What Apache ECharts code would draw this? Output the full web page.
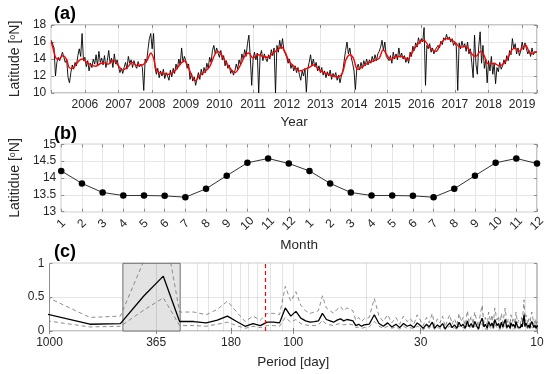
<!DOCTYPE html>
<html><head><meta charset="utf-8">
<script src="https://cdn.jsdelivr.net/npm/echarts@6/dist/echarts.min.js"></script>
<style>html,body{margin:0;padding:0;background:#fff}#c{width:550px;height:374px}</style>
</head><body><div id="c"></div>
<script>
// ---------- Panel (a): daily-ish latitude series and smoothed curve ----------
const yearTicks = [2006,2007,2008,2009,2010,2011,2012,2013,2014,2015,2016,2017,2018,2019];
const blackStart = 2005, blackStep = 1/24;
const blackVals = [
 16.2,16.4,15.3,12.0,13.6,14.2,13.8,14.3,14.8,14.2,13.6,13.9,11.8,11.2,12.4,13.3,12.8,13.6,13.2,14.4,15.2,14.3,17.0,13.8,
 14.2,13.1,13.8,12.6,13.5,13.0,14.0,13.4,14.5,13.2,14.9,13.6,14.1,13.3,14.4,13.0,13.8,15.0,13.5,14.1,13.0,14.6,13.4,13.9,
 13.1,12.4,12.9,12.3,13.0,13.6,12.8,14.3,13.5,13.9,13.0,13.8,13.2,12.9,13.7,13.1,13.4,13.0,10.3,14.0,13.6,15.1,16.4,17.0,
 15.2,17.0,13.0,12.2,12.9,11.8,12.6,12.0,12.8,11.7,12.4,12.0,11.5,12.7,11.9,12.9,12.3,13.4,12.8,14.0,13.3,15.3,13.6,14.3,
 13.8,12.9,13.4,11.6,12.3,11.4,11.9,10.9,11.7,12.4,11.6,12.8,12.1,13.0,12.4,13.5,12.9,14.2,13.6,15.0,15.6,14.6,15.3,14.7,
 14.2,15.0,13.9,14.4,13.2,13.8,12.9,13.3,12.3,12.7,12.1,12.6,13.4,12.8,13.9,13.3,14.6,14.0,15.1,14.3,15.8,16.8,14.2,10.9,
 14.0,14.8,13.9,14.7,10.0,14.4,15.0,13.8,14.6,14.1,13.7,14.5,14.0,15.1,14.4,15.3,10.0,15.6,14.8,16.2,15.2,16.4,15.0,14.6,
 14.2,13.5,14.0,12.9,13.4,12.6,13.2,12.4,13.0,12.2,11.5,12.6,12.0,12.9,10.1,12.8,13.6,14.5,13.2,14.0,13.1,13.6,12.6,13.2,
 12.4,13.0,12.1,12.6,11.8,12.5,12.0,12.7,11.6,12.3,11.9,12.4,11.5,12.1,11.2,12.0,12.6,13.8,15.0,16.0,14.6,15.3,14.2,13.5,
 12.6,10.4,12.9,13.4,12.7,13.6,12.9,13.8,13.2,14.0,13.3,13.9,13.5,14.3,13.7,14.5,13.8,14.6,14.9,15.4,16.2,15.0,16.0,14.3,
 14.5,13.8,14.4,13.5,14.8,14.0,14.6,13.9,15.3,14.2,14.7,14.0,14.4,13.6,14.2,13.5,14.8,14.3,15.5,15.0,15.9,15.4,16.5,15.8,
 16.4,16.0,17.7,10.9,15.6,15.2,15.8,14.8,15.3,14.6,15.1,14.9,15.6,15.3,16.1,15.7,16.5,16.2,16.9,16.3,16.6,16.0,16.4,15.6,
 16.0,15.5,10.3,15.9,15.2,16.1,15.4,15.8,14.9,16.0,14.6,15.2,13.6,11.8,16.8,13.4,12.2,15.5,17.2,13.5,15.6,12.9,14.0,11.2,
 13.8,12.6,14.3,12.2,13.5,11.1,13.0,12.5,13.6,12.8,13.2,13.9,13.4,14.4,13.8,15.0,14.5,16.4,15.2,15.8,14.6,15.3,14.4,15.0,
 16.0,15.1,15.9,15.2,14.6,15.0,14.3,15.3,14.5,14.9,14.7
];
const redYears = [
 2005.0,2005.07,2005.14,2005.22,2005.35,2005.46,2005.53,2005.62,2005.78,2005.91,
 2006.03,2006.18,2006.32,2006.48,2006.57,2006.7,2006.84,2006.97,2007.12,2007.28,
 2007.41,2007.56,2007.72,2007.87,2007.96,2008.04,2008.13,2008.28,2008.5,2008.66,
 2008.8,2008.95,2009.05,2009.17,2009.29,2009.42,2009.57,2009.71,2009.86,2009.96,
 2010.06,2010.21,2010.36,2010.46,2010.6,2010.75,2010.87,2011.0,2011.15,2011.29,
 2011.44,2011.59,2011.74,2011.84,2011.94,2012.08,2012.23,2012.38,2012.52,2012.66,
 2012.8,2012.97,2013.17,2013.37,2013.52,2013.66,2013.76,2013.88,2013.98,2014.11,
 2014.26,2014.4,2014.6,2014.75,2014.87,2014.97,2015.1,2015.24,2015.44,2015.59,
 2015.69,2015.84,2015.985,2016.08,2016.23,2016.43,2016.58,2016.73,2016.87,2017.02,
 2017.12,2017.22,2017.32,2017.42,2017.52,2017.62,2017.76,2017.86,2017.96,2018.06,
 2018.16,2018.31,2018.4,2018.5,2018.6,2018.7,2018.8,2018.9,2019.0,2019.1,
 2019.2,2019.29,2019.39,2019.44
];
const redVals = [
 16.0,15.0,14.1,13.96,14.4,13.9,13.0,12.9,13.6,14.0,
 13.7,13.3,13.15,13.5,13.55,13.4,13.85,13.35,12.7,13.1,
 13.6,13.2,13.3,14.0,14.7,14.1,12.7,12.3,12.2,12.55,
 13.2,13.8,13.3,12.1,11.45,12.1,12.5,13.1,14.5,14.9,
 14.5,13.5,12.7,12.4,13.1,14.3,14.7,14.1,14.5,14.3,
 14.2,14.7,15.1,15.45,14.9,13.7,13.1,12.6,12.75,13.0,
 13.3,12.7,12.3,12.0,11.9,12.4,13.9,14.5,14.1,12.8,
 13.1,13.5,13.8,14.1,15.1,14.5,13.9,14.3,14.3,13.9,
 14.5,15.45,16.1,16.2,15.45,14.9,15.8,16.4,16.3,15.9,
 15.45,15.4,15.5,15.1,14.5,14.3,14.9,14.5,13.5,13.4,
 13.5,13.2,13.3,13.7,14.3,15.1,15.25,14.9,15.25,15.65,
 14.9,14.6,14.8,14.85
];

// ---------- Panel (b): monthly climatology (two cycles) ----------
const monthLabels = ['1','2','3','4','5','6','7','8','9','10','11','12','1','2','3','4','5','6','7','8','9','10','11','12'];
const monthVals = [14.21,13.84,13.57,13.48,13.48,13.47,13.43,13.68,14.07,14.45,14.58,14.43,
                   14.21,13.84,13.57,13.48,13.48,13.47,13.43,13.68,14.07,14.45,14.58,14.43];

// ---------- Panel (c): periodogram ----------
const periods = [
 1024,682.7,512,409.6,341.3,292.6,256,227.6,204.8,186.2,
 170.7,157.5,146.3,136.5,128,120.5,113.8,107.8,102.4,97.5,
 93.1,89.0,85.3,81.9,78.8,75.9,73.1,70.6,68.3,66.1,
 64.0,62.1,60.2,58.5,56.9,55.4,53.9,52.5,51.2,48.8,
 46.5,44.5,42.7,41.0,39.4,37.9,36.6,35.3,34.1,33.0,
 32.0,31.0,30.1,29.3,28.4,27.7,26.9,26.3,25.6,25.0,
 24.4,23.8,23.3,22.8,22.3,21.8,21.3,20.9,20.5,20.1,
 19.7,19.3,19.0,18.6,18.3,18.0,17.7,17.4,17.1,16.8,
 16.5,16.3,16.0,15.8,15.5,15.3,15.1,14.9,14.6,14.4,
 14.2,14.0,13.8,13.7,13.5,13.3,13.1,12.9,12.8,12.6,
 12.5,12.3,12.2,12.0,11.9,11.7,11.6,11.5,11.3,11.2,
 11.1,10.9,10.8,10.7,10.6,10.5,10.3,10.2,10.1,10.0,
 9.9
];
const power = [
 0.25,0.10,0.11,0.52,0.81,0.14,0.14,0.12,0.16,0.22,
 0.14,0.07,0.11,0.08,0.13,0.13,0.12,0.34,0.22,0.29,
 0.19,0.15,0.13,0.14,0.15,0.26,0.17,0.15,0.13,0.16,
 0.18,0.15,0.17,0.16,0.15,0.08,0.10,0.07,0.09,0.10,
 0.24,0.11,0.07,0.12,0.06,0.10,0.05,0.11,0.07,0.09,
 0.05,0.12,0.08,0.04,0.10,0.06,0.13,0.04,0.09,0.06,
 0.11,0.03,0.08,0.12,0.05,0.09,0.04,0.13,0.07,0.10,
 0.04,0.15,0.06,0.11,0.05,0.14,0.08,0.03,0.12,0.19,
 0.06,0.10,0.04,0.14,0.07,0.12,0.05,0.17,0.08,0.11,
 0.04,0.13,0.06,0.10,0.17,0.05,0.09,0.04,0.12,0.07,
 0.10,0.05,0.14,0.06,0.08,0.05,0.10,0.06,0.24,0.07,
 0.12,0.05,0.09,0.04,0.11,0.14,0.05,0.09,0.04,0.08,
 0.06
];
const upperCI = [
 0.50,0.20,0.22,1.04,1.62,0.28,0.28,0.24,0.32,0.44,
 0.28,0.14,0.22,0.16,0.26,0.26,0.24,0.66,0.44,0.58,
 0.38,0.30,0.26,0.28,0.30,0.52,0.34,0.30,0.26,0.32,
 0.36,0.30,0.34,0.32,0.30,0.16,0.20,0.14,0.18,0.20,
 0.48,0.22,0.14,0.24,0.12,0.20,0.10,0.22,0.14,0.18,
 0.10,0.24,0.16,0.08,0.20,0.12,0.26,0.08,0.18,0.12,
 0.22,0.06,0.16,0.24,0.10,0.18,0.08,0.26,0.14,0.20,
 0.08,0.30,0.12,0.22,0.10,0.28,0.16,0.06,0.24,0.38,
 0.12,0.20,0.08,0.28,0.14,0.24,0.10,0.34,0.16,0.22,
 0.08,0.26,0.12,0.20,0.34,0.10,0.18,0.08,0.24,0.14,
 0.20,0.10,0.28,0.12,0.16,0.10,0.20,0.12,0.46,0.14,
 0.24,0.10,0.18,0.08,0.22,0.28,0.10,0.18,0.08,0.16,
 0.12
];
const lowerCI = [
 0.15,0.06,0.07,0.31,0.49,0.08,0.08,0.07,0.10,0.13,
 0.08,0.04,0.07,0.05,0.08,0.08,0.07,0.20,0.13,0.17,
 0.11,0.09,0.08,0.08,0.09,0.16,0.10,0.09,0.08,0.10,
 0.11,0.09,0.10,0.10,0.09,0.05,0.06,0.04,0.05,0.06,
 0.14,0.07,0.04,0.07,0.04,0.06,0.03,0.07,0.04,0.05,
 0.03,0.07,0.05,0.02,0.06,0.04,0.08,0.02,0.05,0.04,
 0.07,0.02,0.05,0.07,0.03,0.05,0.02,0.08,0.04,0.06,
 0.02,0.09,0.04,0.07,0.03,0.08,0.05,0.02,0.07,0.11,
 0.04,0.06,0.02,0.08,0.04,0.07,0.03,0.10,0.05,0.07,
 0.02,0.08,0.04,0.06,0.10,0.03,0.05,0.02,0.07,0.04,
 0.06,0.03,0.08,0.04,0.05,0.03,0.06,0.04,0.14,0.04,
 0.07,0.03,0.05,0.02,0.07,0.08,0.03,0.05,0.02,0.05,
 0.04
];
const periodTicks = [1000,365,180,100,30,10];
const periodGrid = [365,248,223,194,180,165,153,141,124,111,100,50,33,30,25,20,16.8,14.4,12.6,11.2];
const shadeRange = [500, 291];
const redPeriod = 130;

// ---------- Styling ----------
const FONT = 'Liberation Sans, Arial, sans-serif';
const TXT = '#262626';
const FRAME = '#8c8c8c';
const GRIDC = '#e6e6e6';
const tickStyle = {inside:true, length:3, lineStyle:{color:FRAME}};
const lbl = {color:TXT, fontSize:12, fontFamily:FONT};
const nameStyle = {color:TXT, fontSize:13.5, fontFamily:FONT};
const yNameStyle = {color:TXT, fontSize:14, fontFamily:FONT,
  rich:{sup:{fontSize:9, fontFamily:FONT, color:TXT, verticalAlign:'top', padding:[0,0,5,0]}}};
const titleStyle = {fontSize:18, fontWeight:'bold', color:'#000', fontFamily:FONT};

// mirror axes (box ticks on top/right, no labels)
function mirrorX(base) {
  return Object.assign({}, base, {position:'top', name:'', axisLabel:{show:false},
    splitLine:{show:false}, axisLine:{show:false}});
}
function mirrorY(base) {
  return Object.assign({}, base, {position:'right', name:'', axisLabel:{show:false},
    splitLine:{show:false}, axisLine:{show:false}});
}

const chart = echarts.init(document.getElementById('c'), null, {renderer:'canvas'});
const gridBase = {left:49.5, width:487.5, show:true, borderColor:FRAME, borderWidth:1, backgroundColor:'#fff'};

const xA = {gridIndex:0, type:'value', min:2005, max:2019.44, interval:1,
  axisLine:{show:false}, axisTick:tickStyle,
  splitLine:{show:true, lineStyle:{color:GRIDC, width:1}},
  axisLabel:Object.assign({margin:6, formatter:v => yearTicks.indexOf(v) >= 0 ? String(v) : ''}, lbl),
  name:'Year', nameLocation:'middle', nameGap:22, nameTextStyle:nameStyle};
const xB = {gridIndex:1, type:'value', min:1, max:24, interval:1,
  axisLine:{show:false}, axisTick:tickStyle,
  splitLine:{show:true, lineStyle:{color:GRIDC, width:1}},
  axisLabel:Object.assign({margin:12, rotate:45, align:'center', verticalAlign:'middle',
    formatter:v => monthLabels[v-1] || ''}, lbl),
  name:'Month', nameLocation:'middle', nameGap:27, nameTextStyle:nameStyle};
const xC = {gridIndex:2, type:'log', logBase:10, min:10, max:1000, inverse:true,
  axisLine:{show:false},
  axisTick:Object.assign({customValues:periodTicks}, tickStyle),
  splitLine:{show:false}, minorTick:{show:false}, minorSplitLine:{show:false},
  axisLabel:Object.assign({margin:6, customValues:periodTicks, formatter:v => String(Math.round(v))}, lbl),
  name:'Period [day]', nameLocation:'middle', nameGap:24, nameTextStyle:nameStyle};
const yA = {gridIndex:0, type:'value', min:10, max:18, interval:2,
  axisLine:{show:false}, axisTick:tickStyle,
  splitLine:{show:true, lineStyle:{color:GRIDC, width:1}},
  axisLabel:Object.assign({margin:5}, lbl),
  name:'Latitude [{sup|o}N]', nameLocation:'middle', nameGap:19, nameTextStyle:yNameStyle};
const yB = {gridIndex:1, type:'value', min:13, max:15, interval:0.5,
  axisLine:{show:false}, axisTick:tickStyle,
  splitLine:{show:true, lineStyle:{color:GRIDC, width:1}},
  axisLabel:Object.assign({margin:5}, lbl),
  name:'Latitidue [{sup|o}N]', nameLocation:'middle', nameGap:30, nameTextStyle:yNameStyle};
const yC = {gridIndex:2, type:'value', min:0, max:1, interval:0.5,
  axisLine:{show:false}, axisTick:tickStyle,
  splitLine:{show:true, lineStyle:{color:GRIDC, width:1}},
  axisLabel:Object.assign({margin:5}, lbl)};

chart.setOption({
  animation:false,
  backgroundColor:'#fff',
  title:[
    {text:'(a)', left:54, top:5, padding:0, textStyle:titleStyle},
    {text:'(b)', left:54, top:125, padding:0, textStyle:titleStyle},
    {text:'(c)', left:54, top:243, padding:0, textStyle:titleStyle}
  ],
  grid:[
    Object.assign({top:25, height:68}, gridBase),
    Object.assign({top:144.3, height:67.4}, gridBase),
    Object.assign({top:263.3, height:67.7}, gridBase)
  ],
  xAxis:[xA, xB, xC, mirrorX(xA), mirrorX(xB), mirrorX(xC)],
  yAxis:[yA, yB, yC, mirrorY(yA), mirrorY(yB), mirrorY(yC)],
  series:[
    {type:'line', xAxisIndex:0, yAxisIndex:0, z:2, symbol:'none', silent:true,
     data:blackVals.map((v,i) => [blackStart + i*blackStep, v]),
     lineStyle:{color:'#000', width:0.9}},
    {type:'line', xAxisIndex:0, yAxisIndex:0, z:3, symbol:'none', silent:true, smooth:0.35,
     data:redYears.map((y,i) => [y, redVals[i]]),
     lineStyle:{color:'#ff0000', width:1.4}},
    {type:'line', xAxisIndex:1, yAxisIndex:1, z:3, symbol:'circle', symbolSize:6.5, silent:true,
     data:monthVals.map((v,i) => [i+1, v]),
     itemStyle:{color:'#000'}, lineStyle:{color:'#333', width:1}},
    // shaded annual band
    {type:'line', xAxisIndex:2, yAxisIndex:2, z:1, symbol:'none', silent:true,
     data:[[shadeRange[0],0],[shadeRange[1],0]], lineStyle:{opacity:0},
     markArea:{silent:true, itemStyle:{color:'#e3e3e3', borderColor:'#6e6e6e', borderWidth:1},
       data:[[{xAxis:shadeRange[0]},{xAxis:shadeRange[1]}]]}},
    // vertical grid lines
    {type:'line', xAxisIndex:2, yAxisIndex:2, z:2, symbol:'none', silent:true,
     data:[[shadeRange[0],0],[shadeRange[1],0]], lineStyle:{opacity:0},
     markLine:{silent:true, symbol:'none', label:{show:false},
       lineStyle:{color:'rgba(0,0,0,0.11)', type:'solid', width:1},
       data:periodGrid.map(p => ({xAxis:p}))}},
    {type:'line', xAxisIndex:2, yAxisIndex:2, z:3, symbol:'none', silent:true,
     data:periods.map((p,i) => [p, upperCI[i]]),
     lineStyle:{color:'#808080', width:0.9, type:[4,3]}},
    {type:'line', xAxisIndex:2, yAxisIndex:2, z:3, symbol:'none', silent:true,
     data:periods.map((p,i) => [p, lowerCI[i]]),
     lineStyle:{color:'#808080', width:0.9, type:[4,3]}},
    {type:'line', xAxisIndex:2, yAxisIndex:2, z:4, symbol:'none', silent:true,
     data:periods.map((p,i) => [p, power[i]]),
     lineStyle:{color:'#000', width:1.3},
     markLine:{silent:true, symbol:'none', label:{show:false},
       lineStyle:{color:'#ff0000', type:[4,3], width:1.2},
       data:[{xAxis:redPeriod}]}}
  ]
});
</script>
</body></html>
